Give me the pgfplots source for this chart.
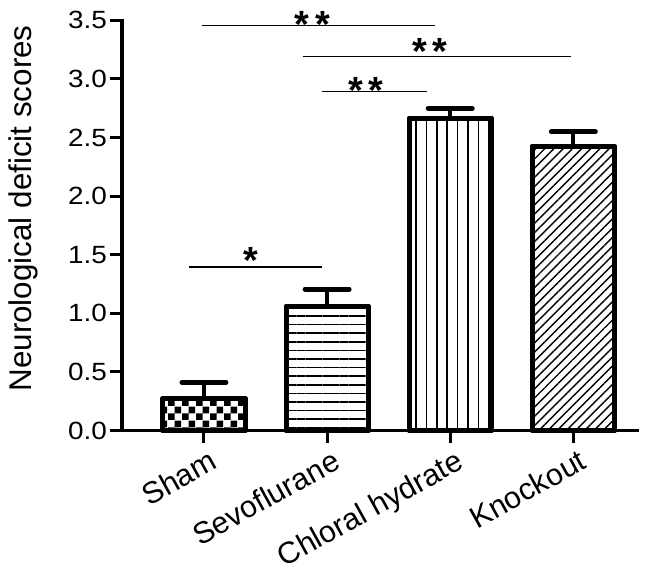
\documentclass[border=0pt]{standalone}
\usepackage{fontspec}
\setmainfont{Liberation Sans}
\newfontfamily\widesans[FakeStretch=1.12]{Liberation Sans}
\usepackage{pgfplots}
\pgfplotsset{compat=1.18}
\usetikzlibrary{patterns,patterns.meta}

\pgfdeclarepatternformonly{checks}{\pgfqpoint{0bp}{0bp}}{\pgfqpoint{14bp}{14bp}}{\pgfqpoint{14bp}{14bp}}{%
  \pgfpathrectangle{\pgfqpoint{0bp}{0bp}}{\pgfqpoint{7bp}{7bp}}%
  \pgfpathrectangle{\pgfqpoint{7bp}{7bp}}{\pgfqpoint{7bp}{7bp}}%
  \pgfusepath{fill}}

\begin{document}
\begin{tikzpicture}
\begin{axis}[
  scale only axis, width=515bp, height=410.2bp,
  xmin=-0.666, xmax=3.517, ymin=0, ymax=3.5,
  axis lines*=left,
  axis line style={line width=3.5bp, line cap=rect},
  tick align=outside, major tick length=12bp,
  tick style={line width=3bp, black},
  xtick={0,1,2,3},
  xticklabels={Sham,Sevoflurane,Chloral hydrate,Knockout},
  ytick={0,0.5,1,1.5,2,2.5,3,3.5},
  x tick label style={rotate=29, anchor=north east, inner sep=1bp, yshift=-6bp, xshift=2bp, font=\fontsize{30.5}{36}\selectfont},
  y tick label style={font=\widesans\fontsize{25}{30}\selectfont, inner sep=3bp,
    /pgf/number format/fixed, /pgf/number format/fixed zerofill,
    /pgf/number format/precision=1, /pgf/number format/assume math mode=true},
  scaled y ticks=false,
  ylabel={Neurological deficit scores},
  ylabel style={font=\fontsize{31.5}{36}\selectfont, at={(axis description cs:-0.1748,0.5415)}, anchor=base},
  ybar, bar width=0.667, bar shift=0pt,
  clip=false,
  every axis plot/.append style={draw=black, line width=5bp, line join=round},
  error bars/y dir=plus, error bars/y explicit,
  error bars/error bar style={line width=4bp},
  error bars/error mark options={rotate=90, line width=5bp, mark size=22bp, line cap=round},
]
\addplot[preaction={fill=white}, pattern=checks] coordinates {(0,0.269) +- (0,0.142)};
\addplot[preaction={fill=white}, pattern={Lines[angle=0,distance=8.6bp,line width=1.5bp]}] coordinates {(1,1.058) +- (0,0.149)};
\addplot[preaction={fill=white}, pattern={Lines[angle=90,distance=10.4bp,line width=1.5bp]}] coordinates {(2,2.664) +- (0,0.085)};
\addplot[preaction={fill=white}, pattern={Lines[angle=45,distance=6.5bp,line width=1.4bp]}] coordinates {(3,2.423) +- (0,0.126)};

\draw[line width=1.5bp] (axis cs:-0.02,3.454) -- (axis cs:1.876,3.454);
\draw[line width=1.5bp] (axis cs:0.802,3.189) -- (axis cs:2.98,3.189);
\draw[line width=1.5bp] (axis cs:0.956,2.891) -- (axis cs:1.814,2.891);
\draw[line width=1.5bp] (axis cs:-0.122,1.395) -- (axis cs:0.959,1.395);
\tikzset{stars/.style={anchor=base, inner sep=0pt, font=\bfseries\fontsize{38}{40}\selectfont}}
\node[stars] at (axis cs:0.881,3.353) {*\hspace{5.5bp}*};
\node[stars] at (axis cs:1.832,3.125) {*\hspace{5.5bp}*};
\node[stars] at (axis cs:1.316,2.791) {*\hspace{5.5bp}*};
\node[stars] at (axis cs:0.382,1.338) {*};
\end{axis}
\pgfresetboundingbox
\path (current axis.south west) ++(-122bp,-143.5bp) rectangle ++(646bp,574bp);
\end{tikzpicture}
\end{document}
